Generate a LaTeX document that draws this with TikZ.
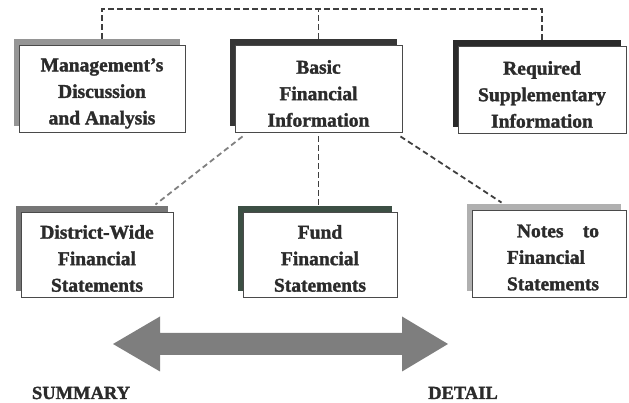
\documentclass[tikz,border=0pt]{standalone}
\usepackage{fontspec}
\setmainfont{Liberation Serif}[BoldFeatures={FakeBold=1.6}]
\usetikzlibrary{shadows}
\definecolor{inktext}{HTML}{2B2B2B}
\definecolor{boxline}{HTML}{4A4A4A}
\definecolor{shgray}{HTML}{959595}
\definecolor{shdark}{HTML}{363636}
\definecolor{shblack}{HTML}{2A2A2A}
\definecolor{shmid}{HTML}{767676}
\definecolor{shgreen}{HTML}{3C4F44}
\definecolor{shlight}{HTML}{B0B0B0}
\definecolor{connink}{HTML}{3F3F3F}
\definecolor{connsoft}{HTML}{808080}
\definecolor{arrowfill}{HTML}{7E7E7E}
\tikzset{
  panel/.style={draw=boxline, line width=0.9pt, fill=white, inner sep=0pt,
    general shadow={fill=#1, shadow xshift=-5.5pt, shadow yshift=6pt}},
  paneltext/.style={text=inktext, align=center, inner sep=0pt,
    font=\bfseries\fontsize{19.5}{26.5}\selectfont},
  conn/.style={draw=connink, line width=1.8pt, dash pattern=on 5.5pt off 3.5pt},
  softconn/.style={conn, draw=connsoft},
  endlabel/.style={text=inktext, anchor=base,
    font=\bfseries\fontsize{18.5}{22}\selectfont}
}
\begin{document}
\begin{tikzpicture}[x=1pt,y=1pt]
\useasboundingbox (0,0) rectangle (629,403);

% top row
\node[panel=shgray, minimum width=166pt, minimum height=87pt] (mda) at (102,314.5) {};
\node[paneltext] (mdat) at ([yshift=-5pt]mda.center)
  {Management's\\Discussion\\and Analysis};
\node[panel=shdark, minimum width=167pt, minimum height=87pt] (bfi) at (318.5,314.5) {};
\node[paneltext] (bfit) at ([yshift=-5pt]bfi.center)
  {Basic\\Financial\\Information};
\node[panel=shblack, minimum width=168pt, minimum height=87pt] (rsi) at (542,313.5) {};
\node[paneltext] (rsit) at ([yshift=-5pt]rsi.center)
  {Required\\Supplementary\\Information};

% bottom row
\node[panel=shmid, minimum width=152pt, minimum height=85pt] (dw) at (97,148.5) {};
\node[paneltext] (dwt) at ([yshift=-4pt]dw.center)
  {District-Wide\\Financial\\Statements};
\node[panel=shgreen, minimum width=154pt, minimum height=85pt] (ffs) at (320,148.5) {};
\node[paneltext] (ffst) at ([yshift=-4pt]ffs.center)
  {Fund\\Financial\\Statements};
\node[panel=shlight, minimum width=154pt, minimum height=87pt] (nfs) at (549,149.5) {};
\node[paneltext, align=left] (nfst) at ([shift={(4pt,-4pt)}]nfs.center)
  {\setbox0\hbox{Statements}\hbox to \wd0{\hspace{10pt}Notes\hfill to}\\Financial\\Statements};

% dashed bus over the top row
\coordinate (bus) at (0,388);
\draw[conn] ([yshift=6pt]mda.north) -- ([yshift=6pt]mda.north |- bus)
  -| ([yshift=6pt]rsi.north);
\draw[conn] ([yshift=6pt]bfi.north) -- ([yshift=6pt]bfi.north |- bus);

% dashed links from the basic statements to the detail boxes
\draw[softconn] ([shift={(8,-4)}]bfi.south west) -- ([shift={(-18,7)}]dw.north east);
\draw[conn] ([yshift=-4pt]bfi.south) -- ([yshift=7pt]bfi.south |- ffs.north);
\draw[conn] ([shift={(-2,-4)}]bfi.south east) -- ([shift={(30,7)}]nfs.north west);

% summary / detail double arrow
\fill[arrowfill] (113,59) -- (160,86.5) -- (160,70) -- (402,70) -- (402,86.5)
  -- (448,59) -- (402,31.5) -- (402,48) -- (160,48) -- (160,31.5) -- cycle;
\node[endlabel] (summary) at (81,4) {SUMMARY};
\node[endlabel] (detail) at (463,4) {DETAIL};
\end{tikzpicture}
\end{document}
